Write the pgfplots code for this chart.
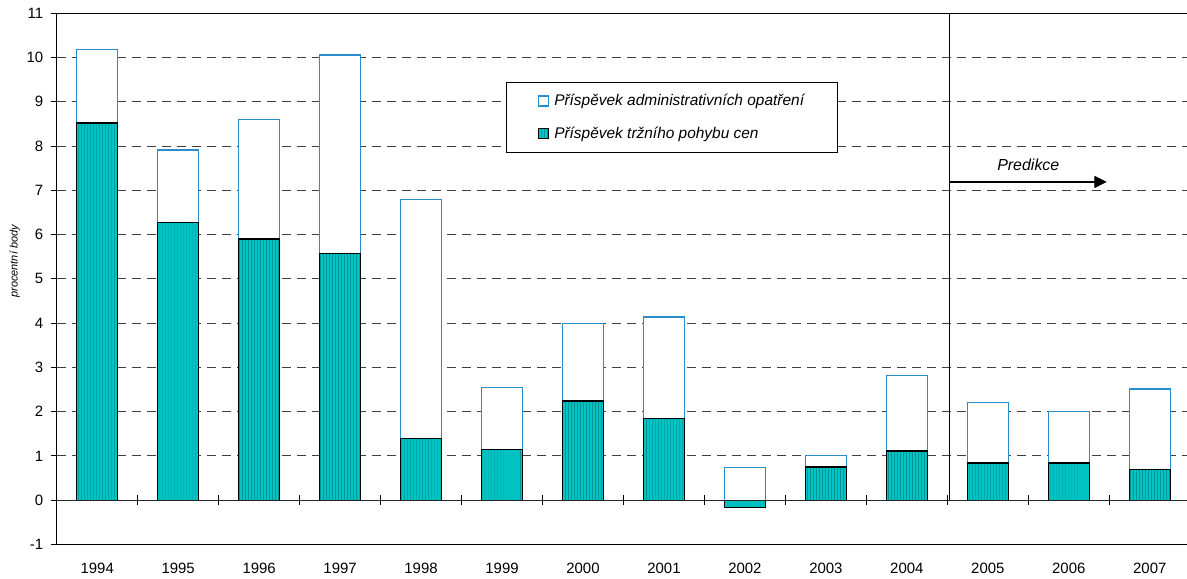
\documentclass[border=0pt]{standalone}
\usepackage{fontspec}
\setmainfont{Liberation Sans}
\usepackage{pgfplots}
\pgfplotsset{compat=1.18}
\usetikzlibrary{patterns,arrows.meta}
\definecolor{tealc}{RGB}{0,196,196}
\definecolor{tealdark}{RGB}{0,150,150}
\definecolor{edgeblue}{RGB}{40,140,205}
\begin{document}
\begin{tikzpicture}
\begin{axis}[
  scale only axis,
  width=1130bp, height=531bp,
  xmin=-0.5, xmax=13.46, ymin=-1, ymax=11,
  axis x line=box, axis y line=left,
  axis line style={-, black, line width=1.2bp},
  xtick={0,...,13},
  xticklabels={1994,1995,1996,1997,1998,1999,2000,2001,2002,2003,2004,2005,2006,2007},
  xtick style={draw=none},
  xticklabel style={font=\fontsize{15}{17}\selectfont, yshift=-9bp},
  ytick={-1,0,...,11},
  tick align=outside,
  major tick length=6bp,
  ytick style={black, line width=1bp},
  yticklabel style={font=\fontsize{15}{17}\selectfont, xshift=-4bp},
  /pgf/number format/assume math mode=true,
  ymajorgrids,
  grid style={black!75, line width=0.9bp, dash pattern=on 9bp off 6bp},
  every axis y label/.style={at={(rel axis cs:0,0.533)}, xshift=-42bp, rotate=90, anchor=center, font=\itshape\fontsize{11}{13}\selectfont},
  ylabel={procentní body},
  legend cell align=left,
  legend image code/.code={\draw[#1] (0bp,-5bp) rectangle (10bp,5bp);},
  legend style={at={(axis cs:5.044,9.446)}, anchor=north west, draw=black, line width=0.9bp,
    font=\itshape\fontsize{15.5}{18}\selectfont, inner xsep=32bp, inner ysep=11bp,
    row sep=18bp, nodes={inner sep=1bp},
    /tikz/every odd column/.append style={column sep=4bp}},
  clip=true,
]
\addplot[ybar, bar width=0.51, bar shift=0pt, fill=white, draw=edgeblue, line width=1.2bp]
  coordinates {(0,10.19) (1,7.91) (2,8.60) (3,10.06) (4,6.79) (5,2.54) (6,3.99) (7,4.14) (8,0.73) (9,1.01) (10,2.82) (11,2.21) (12,2.01) (13,2.51)};
\addlegendentry{Příspěvek administrativních opatření}
\addplot[ybar, bar width=0.51, bar shift=0pt, fill=tealc, draw=black, line width=1.2bp,
  postaction={pattern=vertical lines, pattern color=tealdark}]
  coordinates {(0,8.52) (1,6.28) (2,5.90) (3,5.58) (4,1.40) (5,1.15) (6,2.24) (7,1.84) (8,-0.165) (9,0.75) (10,1.11) (11,0.84) (12,0.84) (13,0.70)};
\addlegendentry{Příspěvek tržního pohybu cen}
\draw[black!85, line width=1.1bp] (axis cs:-0.5,0) -- (axis cs:13.46,0);
\pgfplotsinvokeforeach{0.5,1.5,...,12.5}{
  \draw[black, line width=1bp] ([yshift=-5bp]axis cs:#1,0) -- ([yshift=5bp]axis cs:#1,0);
}
\draw[black, line width=1.2bp] (axis cs:10.53,0) -- (axis cs:10.53,11);
\draw[black, line width=1.2bp, -{Triangle[length=12.5bp,width=12bp]}] (axis cs:10.53,7.19) -- (axis cs:12.47,7.19);
\node[font=\itshape\fontsize{16}{18}\selectfont] at (axis cs:11.5,7.57) {Predikce};
\coordinate (SW) at (rel axis cs:0,0);
\coordinate (NE) at (rel axis cs:1,1);
\end{axis}
\pgfresetboundingbox
\path ([xshift=-56.7bp,yshift=-33.7bp]SW) rectangle ([yshift=13.3bp]NE);
\end{tikzpicture}
\end{document}
